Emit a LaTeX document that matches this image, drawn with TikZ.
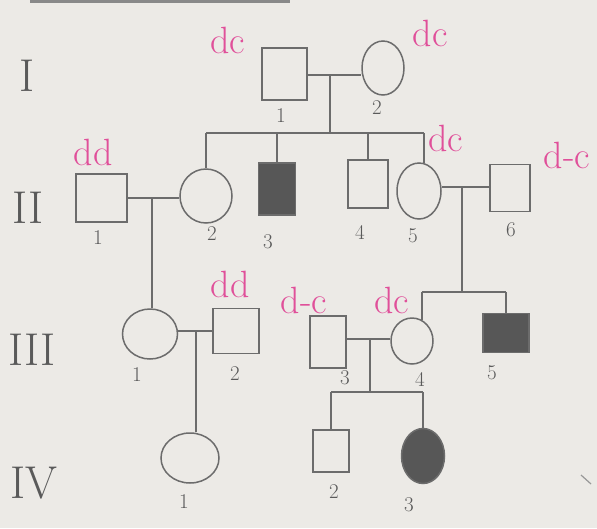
\documentclass[tikz,border=0pt]{standalone}
\usetikzlibrary{shapes.geometric}
\definecolor{paper}{HTML}{ECEAE6}
\definecolor{ink}{HTML}{6C6C6C}
\definecolor{pinkink}{HTML}{E0509A}
\definecolor{numink}{HTML}{5A5A5A}
\definecolor{affected}{HTML}{575757}
\begin{document}
\begin{tikzpicture}[x=1pt,y=-1pt,line width=1.5pt,
  male/.style={draw=ink,rectangle,inner sep=0pt},
  female/.style={draw=ink,ellipse,inner sep=0pt},
  aff/.style={fill=affected},
  conn/.style={draw=ink,line width=1.5pt},
  num/.style={text=numink,font=\fontsize{21}{21}\selectfont,inner sep=0pt},
  gen/.style={text=numink,font=\fontsize{46}{46}\selectfont,inner sep=0pt},
  geno/.style={text=pinkink,font=\fontsize{38}{38}\selectfont,inner sep=0pt}]
\fill[paper] (0,0) rectangle (597,528);
\useasboundingbox (0,0) rectangle (597,528);
\draw[ink!80,line width=3pt] (30,1) -- (290,1);

% generation labels
\node[gen] (gI) at (27,76) {I};
\node[gen] (gII) at (28,208) {II};
\node[gen] (gIII) at (32,350) {III};
\node[gen] (gIV) at (34,483) {IV};

% generation I
\node[male,minimum width=45pt,minimum height=52pt] (I1) at (284.5,74) {};
\node[female,minimum width=42pt,minimum height=54pt] (I2) at (383,68) {};
\node[num] (nI1) at (281,116) {1};
\node[num] (nI2) at (377,108) {2};
\node[geno] (gtI1) at (228,40) {dc};
\node[geno] (gtI2) at (430,33) {dc};
\coordinate (m1) at (330,75);
\coordinate (s1) at (330,133);
\draw[conn] (I1.east|-m1) -- (I2.west|-m1);
\draw[conn] (m1) -- (s1);

% generation II
\node[male,minimum width=51pt,minimum height=48pt] (II1) at (101.5,198) {};
\node[female,minimum width=52pt,minimum height=54pt] (II2) at (206,196) {};
\node[male,aff,minimum width=37pt,minimum height=52pt] (II3) at (277,189) {};
\node[male,minimum width=40pt,minimum height=48pt] (II4) at (368,184) {};
\node[female,minimum width=44pt,minimum height=56pt] (II5) at (419,191) {};
\node[male,minimum width=40pt,minimum height=47pt] (II6) at (510,188) {};
\node[num] (nII1) at (98,238) {1};
\node[num] (nII2) at (212,234) {2};
\node[num] (nII3) at (268,242) {3};
\node[num] (nII4) at (360,232) {4};
\node[num] (nII5) at (413,236) {5};
\node[num] (nII6) at (511,230) {6};
\node[geno] (gtII1) at (93,152) {dd};
\node[geno] (gtII5) at (446,138) {dc};
\node[geno] (gtII6) at (567,155) {d-c};
\draw[conn] (II2.north|-s1) -- (II5.80|-s1);
\draw[conn] (II2.north|-s1) -- (II2.north);
\draw[conn] (II3.north|-s1) -- (II3.north);
\draw[conn] (II4.north|-s1) -- (II4.north);
\draw[conn] (II5.80|-s1) -- (II5.80);
\coordinate (m2) at (152,198);
\coordinate (m3) at (462,187);
\coordinate (s3) at (462,292);
\draw[conn] (II1.east|-m2) -- (II2.west|-m2);
\draw[conn] (II5.east|-m3) -- (II6.west|-m3);
\draw[conn] (m3) -- (s3);

% generation III
\node[female,minimum width=55pt,minimum height=50pt] (III1) at (150,334) {};
\node[male,minimum width=46pt,minimum height=45pt] (III2) at (236,331) {};
\node[male,minimum width=36pt,minimum height=52pt] (III3) at (328,342) {};
\node[female,minimum width=42pt,minimum height=46pt] (III4) at (412,341) {};
\node[male,aff,minimum width=46pt,minimum height=39pt] (III5) at (506,333) {};
\node[num] (nIII1) at (137,375) {1};
\node[num] (nIII2) at (235,374) {2};
\node[num] (nIII3) at (345,378) {3};
\node[num] (nIII4) at (420,379) {4};
\node[num] (nIII5) at (492,373) {5};
\node[geno] (gtIII2) at (230,284) {dd};
\node[geno] (gtIII3) at (304,300) {d-c};
\node[geno] (gtIII4) at (392,300) {dc};
\draw[conn] (m2) -- (m2|-III1.north);
\draw[conn] (s3-|III4.65) -- (s3-|III5.north);
\draw[conn] (s3-|III4.65) -- (III4.65);
\draw[conn] (s3-|III5.north) -- (III5.north);
\coordinate (m4) at (196,331);
\coordinate (m5) at (370,339);
\coordinate (s4) at (370,392);
\draw[conn] (III1.east|-m4) -- (III2.west|-m4);
\draw[conn] (III3.east|-m5) -- (III4.west|-m5);
\draw[conn] (m5) -- (s4);

% generation IV
\node[female,minimum width=58pt,minimum height=50pt] (IV1) at (190,458) {};
\node[male,minimum width=36pt,minimum height=42pt] (IV2) at (331,451) {};
\node[female,aff,minimum width=43pt,minimum height=55pt] (IV3) at (423,456) {};
\node[num] (nIV1) at (184,502) {1};
\node[num] (nIV2) at (334,492) {2};
\node[num] (nIV3) at (409,505) {3};
\draw[conn] (m4) -- (m4|-IV1.north);
\draw[conn] (s4-|IV2.north) -- (s4-|IV3.north);
\draw[conn] (s4-|IV2.north) -- (IV2.north);
\draw[conn] (s4-|IV3.north) -- (IV3.north);
\draw[ink!70,line width=1.2pt] (581,475) -- (591,484);
\end{tikzpicture}
\end{document}
